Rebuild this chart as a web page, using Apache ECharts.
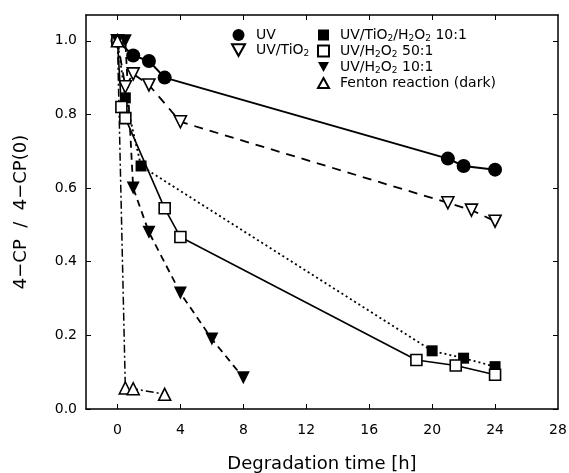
<!DOCTYPE html>
<html><head><meta charset="utf-8">
<script src="https://cdn.jsdelivr.net/npm/echarts@6/dist/echarts.min.js"></script>
<style>html,body{margin:0;padding:0;background:#fff}#c{width:569px;height:473px}</style>
</head><body><div id="c"></div>
<script>
const uvT = [0, 1, 2, 3, 21, 22, 24];
const uvY = [1.0, 0.96, 0.945, 0.90, 0.68, 0.66, 0.65];
const tio2T = [0, 0.5, 1, 2, 4, 21, 22.5, 24];
const tio2Y = [1.0, 0.875, 0.91, 0.88, 0.78, 0.56, 0.54, 0.51];
const tio2h2o2T = [0, 0.5, 1.5, 20, 22, 24];
const tio2h2o2Y = [1.0, 0.845, 0.66, 0.158, 0.138, 0.115];
const h2o2_50T = [0, 0.25, 0.5, 3, 4, 19, 21.5, 24];
const h2o2_50Y = [1.0, 0.82, 0.79, 0.545, 0.467, 0.133, 0.118, 0.093];
const h2o2_10T = [0, 0.5, 1, 2, 4, 6, 8];
const h2o2_10Y = [1.0, 1.0, 0.60, 0.48, 0.315, 0.19, 0.085];
const fentonT = [0, 0.5, 1, 3];
const fentonY = [1.0, 0.057, 0.055, 0.04];
const xTickLabels = [0, 4, 8, 12, 16, 20, 24, 28];
const yTickLabels = [0, 0.2, 0.4, 0.6, 0.8, 1.0];
const names = ['UV', 'UV/TiO2', 'UV/TiO2/H2O2 10:1', 'UV/H2O2 50:1', 'UV/H2O2 10:1', 'Fenton reaction (dark)'];
function pairs(t, y) { return t.map((v, i) => [v, y[i]]); }
const FONT = 'DejaVu Sans';
const K = '#000';
const DOWN = 'path://M0,0 L10,0 L5,9 Z';
const UP = 'path://M5,0 L10,9 L0,9 Z';
function fmtLegend(name) {
  return '{g|}' + ('{n|' + name.replace(/O2/g, 'O}{s|2}{n|').replace(/H2/g, 'H}{s|2}{n|') + '}').replace(/\{n\|\}/g, '');
}
const mk = (name, t, y, symbol, size, filled, lineType, lw) => ({
  name, type: 'line', data: pairs(t, y), symbol, symbolSize: size,
  lineStyle: { color: K, width: lw, type: lineType },
  itemStyle: { color: filled ? K : '#fff', borderColor: K, borderWidth: filled ? 0 : 1.6 },
  z: 3
});
const chart = echarts.init(document.getElementById('c'));
const lineRich = {
  g: { width: 6, lineHeight: 16 },
  n: { fontFamily: FONT, fontSize: 14, color: K, lineHeight: 16 },
  s: { fontFamily: FONT, fontSize: 9, color: K, lineHeight: 9, verticalAlign: 'bottom' }
};
const tickX = [0, 4, 8, 12, 16, 20, 24];
chart.setOption({
  animation: false,
  backgroundColor: '#fff',
  grid: { left: 86, right: 11, top: 15, bottom: 64, outerBoundsMode: 'none', containLabel: false },
  legend: [
    { data: [{ name: names[0], icon: 'circle' }, { name: names[1], icon: DOWN }], orient: 'vertical', left: 226, top: 23, itemWidth: 13, itemHeight: 12, itemGap: 1, formatter: fmtLegend, textStyle: { rich: lineRich }, selectedMode: false },
    { data: [{ name: names[2], icon: 'rect' }, { name: names[3], icon: 'rect' }, { name: names[4], icon: DOWN }, { name: names[5], icon: UP }], orient: 'vertical', left: 312, top: 23, itemWidth: 11, itemHeight: 11, itemGap: 1, formatter: fmtLegend, textStyle: { rich: lineRich }, selectedMode: false }
  ],
  xAxis: [{
    type: 'value', min: -2, max: 28, position: 'bottom',
    name: 'Degradation time [h]', nameLocation: 'middle', nameGap: 46,
    nameTextStyle: { fontFamily: FONT, fontSize: 18, color: K },
    axisLine: { onZero: false, lineStyle: { color: K, width: 1.5 } },
    axisTick: { inside: true, length: 5, customValues: tickX, lineStyle: { color: K } },
    axisLabel: { customValues: xTickLabels, fontFamily: FONT, fontSize: 14, color: K, margin: 14 },
    splitLine: { show: false }
  }, {
    type: 'value', min: -2, max: 28, position: 'top',
    axisLine: { onZero: false, lineStyle: { color: K, width: 1.5 } },
    axisTick: { inside: true, length: 5, customValues: tickX, lineStyle: { color: K } },
    axisLabel: { show: false }, splitLine: { show: false }
  }],
  yAxis: [{
    type: 'value', min: 0, max: 1.07, position: 'left',
    name: '4\u2212CP  /  4\u2212CP(0)', nameLocation: 'middle', nameGap: 56,
    nameTextStyle: { fontFamily: FONT, fontSize: 18, color: K },
    axisLine: { show: true, onZero: false, lineStyle: { color: K, width: 1.5 } },
    axisTick: { show: true, inside: true, length: 5, customValues: yTickLabels, lineStyle: { color: K } },
    axisLabel: { customValues: yTickLabels, formatter: v => v.toFixed(1), fontFamily: FONT, fontSize: 14, color: K, margin: 9 },
    splitLine: { show: false }
  }, {
    type: 'value', min: 0, max: 1.07, position: 'right',
    axisLine: { show: true, onZero: false, lineStyle: { color: K, width: 1.5 } },
    axisTick: { show: true, inside: true, length: 5, customValues: yTickLabels, lineStyle: { color: K } },
    axisLabel: { show: false }, splitLine: { show: false }
  }],
  series: [
    mk(names[0], uvT, uvY, 'circle', 14, true, 'solid', 2),
    mk(names[1], tio2T, tio2Y, DOWN, 12, false, [9, 7], 1.8),
    mk(names[2], tio2h2o2T, tio2h2o2Y, 'rect', 11, true, [2, 3], 1.8),
    mk(names[3], h2o2_50T, h2o2_50Y, 'rect', 11, false, 'solid', 1.6),
    mk(names[4], h2o2_10T, h2o2_10Y, DOWN, 13, true, [7, 5], 1.8),
    mk(names[5], fentonT, fentonY, UP, 12, false, [8, 3, 2, 3], 1.5)
  ]
});
</script></body></html>
